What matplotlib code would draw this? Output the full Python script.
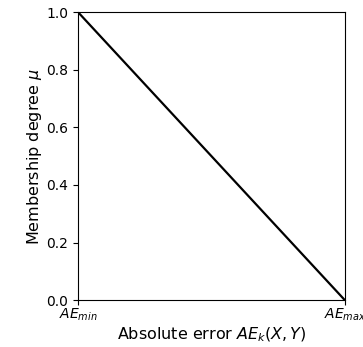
import matplotlib
matplotlib.use('Agg')
import matplotlib.pyplot as plt

# membership function: linear from AE_min to AE_max
ae = [0.0, 1.0]
mu = [1.0, 0.0]
xtick_pos = [0.0, 1.0]
xtick_labels = [r'$AE_{min}$', r'$AE_{max}$']
ytick_pos = [0.0, 0.2, 0.4, 0.6, 0.8, 1.0]

fig = plt.figure(figsize=(3.63, 3.47), dpi=100)
ax = fig.add_axes([0.215, 0.135, 0.735, 0.83])
ax.plot(ae, mu, color='black', linewidth=1.6)
ax.set_xlim(0, 1)
ax.set_ylim(0, 1)
ax.set_xticks(xtick_pos)
ax.set_xticklabels(xtick_labels)
ax.tick_params(axis='x', pad=1)
ax.set_yticks(ytick_pos)
ax.set_xlabel(r'Absolute error $AE_k(X,Y)$', fontsize=11.5, labelpad=2)
ax.set_ylabel(r'Membership degree $\mu$', fontsize=11.5, labelpad=2)
fig.savefig('out.png', dpi=100)
